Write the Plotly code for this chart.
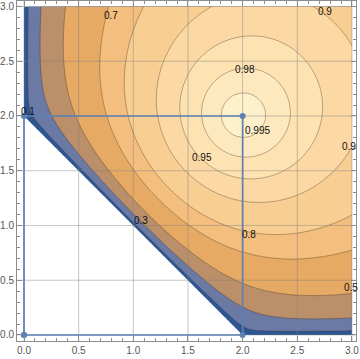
import numpy as np
import plotly.graph_objects as go

# reference quad; its third corner is the one that moves over the plot
quad_x = [0.0, 2.0, 2.0, 0.0]
quad_y = [0.0, 0.0, 2.0, 2.0]

# contour levels and the fill colour of each band, lowest band first
levels = [0.1, 0.3, 0.5, 0.7, 0.8, 0.9, 0.95, 0.98, 0.995]
band_colors = [
    "#2c5794",
    "#6b79a5",
    "#ba8f69",
    "#e7aa64",
    "#f3be7e",
    "#f9ce92",
    "#fcd9a4",
    "#fde2b2",
    "#fee9be",
    "#fff0cc",
]

# contour labels where they sit in the picture
label_text = ["0.1", "0.3", "0.5", "0.7", "0.8", "0.9", "0.9", "0.95", "0.98", "0.995"]
label_x = [0.04, 1.07, 2.99, 0.80, 2.06, 2.75, 2.97, 1.63, 2.02, 2.14]
label_y = [2.04, 1.05, 0.43, 2.92, 0.92, 2.95, 1.72, 1.62, 2.42, 1.87]

ticks = [0.0, 0.5, 1.0, 1.5, 2.0, 2.5, 3.0]
grid_x = np.linspace(0.0, 3.0, 301)
grid_y = np.linspace(0.0, 3.0, 301)


def quad_quality(px, py):
    """Inverse mean corner condition number of the quad with corner 2 at (px, py)."""
    xs = [np.full_like(px, quad_x[0]), np.full_like(px, quad_x[1]), px, np.full_like(px, quad_x[3])]
    ys = [np.full_like(py, quad_y[0]), np.full_like(py, quad_y[1]), py, np.full_like(py, quad_y[3])]
    kappa_sum = np.zeros_like(px)
    min_cross = np.full_like(px, np.inf)
    for i in range(4):
        ax, ay = xs[(i + 1) % 4] - xs[i], ys[(i + 1) % 4] - ys[i]
        bx, by = xs[i - 1] - xs[i], ys[i - 1] - ys[i]
        cross = ax * by - ay * bx
        min_cross = np.minimum(min_cross, cross)
        with np.errstate(divide="ignore", invalid="ignore"):
            kappa = np.where(cross > 1e-12, (ax**2 + ay**2 + bx**2 + by**2) / (2.0 * cross), np.inf)
        kappa_sum = kappa_sum + kappa
    quality = 4.0 / kappa_sum
    return np.where(min_cross < -1e-9, np.nan, quality)


gx, gy = np.meshgrid(grid_x, grid_y)
quality = quad_quality(gx, gy)
# map the uneven levels onto 1..9 so plotly can use evenly spaced contours
band_z = np.interp(np.nan_to_num(quality), [0.0] + levels + [1.0], np.arange(len(levels) + 2))
band_z = np.where(np.isnan(quality), np.nan, np.round(band_z, 4))
z_rows = [[None if np.isnan(v) else float(v) for v in row] for row in band_z]

n_bands = len(band_colors)
colorscale = [[k / (n_bands - 1), c] for k, c in enumerate(band_colors)]

fig = go.Figure()
fig.add_trace(
    go.Contour(
        x=grid_x,
        y=grid_y,
        z=z_rows,
        colorscale=colorscale,
        showscale=False,
        connectgaps=False,
        contours={"start": 1, "end": len(levels), "size": 1, "coloring": "fill", "showlines": True},
        line={"color": "rgba(60,45,30,0.55)", "width": 0.65, "smoothing": 1},
        hoverinfo="skip",
    )
)

# grid lines over the fill, under the quad
gl_x, gl_y = [], []
for t in ticks:
    gl_x += [t, t, None, -0.1, 3.1, None]
    gl_y += [-0.1, 3.1, None, t, t, None]
fig.add_trace(
    go.Scatter(
        x=gl_x,
        y=gl_y,
        mode="lines",
        line={"color": "rgba(128,128,128,0.45)", "width": 1},
        hoverinfo="skip",
        cliponaxis=True,
    )
)

fig.add_trace(
    go.Scatter(
        x=quad_x + quad_x[:1],
        y=quad_y + quad_y[:1],
        mode="lines+markers",
        line={"color": "#5e81b5", "width": 1.7},
        marker={"color": "#5e81b5", "size": 6},
        hoverinfo="skip",
    )
)

for text, lx, ly in zip(label_text, label_x, label_y):
    fig.add_annotation(
        x=lx,
        y=ly,
        text=text,
        showarrow=False,
        font={"family": "Liberation Sans, Arial, sans-serif", "size": 10, "color": "#111111"},
    )

axis_style = {
    "showgrid": False,
    "zeroline": False,
    "showline": True,
    "linecolor": "#8c8c8c",
    "linewidth": 1,
    "mirror": "ticks",
    "ticks": "inside",
    "ticklen": 5,
    "tickwidth": 1,
    "tickcolor": "#8c8c8c",
    "tickvals": ticks,
    "ticktext": [f"{t:.1f}" for t in ticks],
    "minor": {"ticks": "inside", "dtick": 0.1, "tick0": 0, "ticklen": 3, "tickcolor": "#8c8c8c", "showgrid": False},
    "automargin": False,
    "tickfont": {"family": "Liberation Sans, Arial, sans-serif", "size": 10, "color": "#555555"},
}
fig.update_xaxes(range=[-0.064, 3.037], **axis_style)
fig.update_yaxes(range=[-0.055, 3.05], **axis_style)
fig.update_layout(
    width=360,
    height=359,
    margin={"l": 17, "r": 4, "t": 1, "b": 18},
    plot_bgcolor="white",
    paper_bgcolor="white",
    showlegend=False,
)
# drop the browser's default body margin so the figure sits at the page corner
fig.write_html(
    "out.html",
    config={"displayModeBar": False},
    post_script="document.body.style.margin = '0';",
)
